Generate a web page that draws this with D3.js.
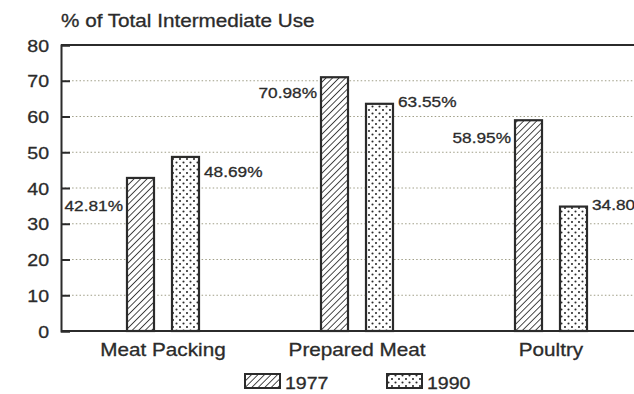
<!DOCTYPE html>
<html><head><meta charset="utf-8">
<script src="https://cdn.jsdelivr.net/npm/d3@7"></script>
<style>body{margin:0;background:#fff}svg{display:block}text{font-family:"Liberation Sans",Arial,sans-serif;fill:#2b2b2b;stroke:#2b2b2b;stroke-width:0.3px}</style>
</head><body><svg id="c" width="634" height="394"></svg>
<script>
const categories = ["Meat Packing", "Prepared Meat", "Poultry"];
const series = ["1977", "1990"];
const values1977 = [42.81, 70.98, 58.95];
const values1990 = [48.69, 63.55, 34.80];
const labels1977 = ["42.81%", "70.98%", "58.95%"];
const labels1990 = ["48.69%", "63.55%", "34.80%"];
const yTicks = [0, 10, 20, 30, 40, 50, 60, 70, 80];
const yTitle = "% of Total Intermediate Use";
// label vertical offsets relative to bar top (style)
const dy1977 = [28, 16, 18];
const dy1990 = [15, -2, -2];

const svg = d3.select("#c");
const m = {l: 61, t: 45, r: 648, b: 331};
const ink = "#2b2b2b";
const SX = 1.15; // horizontal stretch of the typeface

function stext(g, x, yy, s, size, anchor) {
  return g.append("text")
    .attr("transform", `translate(${x},${yy}) scale(${SX},1)`)
    .attr("text-anchor", anchor || "start")
    .attr("font-size", size).text(s);
}

const defs = svg.append("defs");
const hatch = defs.append("pattern").attr("id","hatch").attr("patternUnits","userSpaceOnUse")
  .attr("width",4.6).attr("height",4.6).attr("patternTransform","rotate(45)");
hatch.append("rect").attr("width",4.6).attr("height",4.6).attr("fill","#fff");
hatch.append("line").attr("x1",0).attr("y1",0).attr("x2",0).attr("y2",4.6).attr("stroke",ink).attr("stroke-width",1.7);
const dots = defs.append("pattern").attr("id","dots").attr("patternUnits","userSpaceOnUse")
  .attr("width",7).attr("height",7);
dots.append("rect").attr("width",7).attr("height",7).attr("fill","#fff");
dots.append("circle").attr("cx",1.5).attr("cy",1.5).attr("r",1.05).attr("fill",ink);
dots.append("circle").attr("cx",5).attr("cy",5).attr("r",1.05).attr("fill",ink);

const y = d3.scaleLinear().domain([0,80]).range([m.b, m.t]);
const x0 = d3.scaleBand().domain(categories).range([m.l+5, m.r]).paddingInner(0).paddingOuter(0);
const x1 = d3.scaleBand().domain(series).range([-36, 36]).paddingInner(0.4).paddingOuter(0);

// grid
svg.append("g").selectAll("line").data(yTicks.filter(d=>d>0 && d<80)).join("line")
  .attr("x1", m.l).attr("x2", 634).attr("y1", d=>y(d)).attr("y2", d=>y(d))
  .attr("stroke","#a09f88").attr("stroke-width",1).attr("stroke-dasharray","1.5,2.2");

// frame
svg.append("line").attr("x1",m.l).attr("x2",640).attr("y1",y(80)).attr("y2",y(80)).attr("stroke",ink).attr("stroke-width",2);
svg.append("line").attr("x1",m.l).attr("x2",640).attr("y1",y(0)).attr("y2",y(0)).attr("stroke",ink).attr("stroke-width",2);

// y axis
const yAxis = d3.axisLeft(y).tickValues(yTicks).tickSize(-9).tickFormat(()=>"");
const ga = svg.append("g").attr("transform",`translate(${m.l},0)`).call(yAxis);
ga.select(".domain").attr("stroke",ink).attr("stroke-width",2);
ga.selectAll(".tick line").attr("stroke",ink).attr("stroke-width",2);
ga.selectAll(".tick").each(function(d){
  stext(d3.select(this), -12, 6, d3.format("d")(d), 17, "end");
});

stext(svg, 61, 27, yTitle, 18, "start");

// bars
const data = [];
categories.forEach((c,i)=>{
  data.push({c, s:"1977", v:values1977[i], lab:labels1977[i], dy:dy1977[i]});
  data.push({c, s:"1990", v:values1990[i], lab:labels1990[i], dy:dy1990[i]});
});
const bx = d => x0(d.c) + x0.bandwidth()/2 + x1(d.s);
svg.append("g").selectAll("rect").data(data).join("rect")
  .attr("x", bx).attr("y", d=>y(d.v)).attr("width", x1.bandwidth()).attr("height", d=>y(0)-y(d.v))
  .attr("fill", d=>d.s==="1977"?"url(#hatch)":"url(#dots)").attr("stroke",ink).attr("stroke-width",2.2);

const lg0 = svg.append("g");
data.forEach(d=>{
  const x = d.s==="1977" ? bx(d)-4 : bx(d)+x1.bandwidth()+5;
  stext(lg0, x, y(d.v)+d.dy+5, d.lab, 15, d.s==="1977"?"end":"start");
});

// x labels
const xl = svg.append("g");
categories.forEach(c=> stext(xl, x0(c)+x0.bandwidth()/2, 356, c, 18, "middle"));

// legend
const leg = [{s:"1977", x:245, f:"url(#hatch)"},{s:"1990", x:387, f:"url(#dots)"}];
const lg = svg.append("g").selectAll("g").data(leg).join("g").attr("transform",d=>`translate(${d.x},374)`);
lg.append("rect").attr("width",35).attr("height",14).attr("fill",d=>d.f).attr("stroke",ink).attr("stroke-width",2);
lg.each(function(d){ stext(d3.select(this), 40, 15, d.s, 17, "start"); });
</script></body></html>
